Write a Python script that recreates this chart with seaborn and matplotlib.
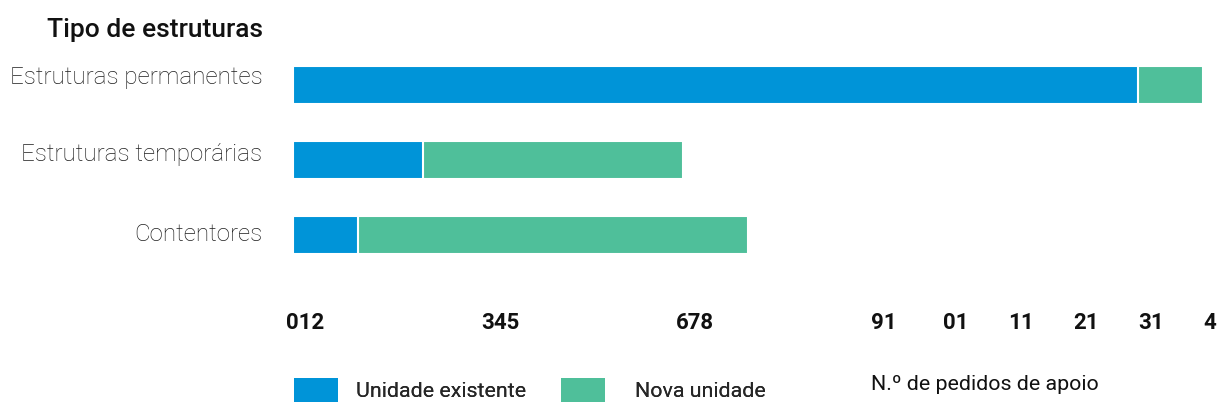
import matplotlib
matplotlib.use("Agg")
import matplotlib.pyplot as plt
from matplotlib.patches import Patch
from matplotlib.transforms import ScaledTranslation
import numpy as np
import pandas as pd
import seaborn as sns

# Support requests per structure type
categories = ["Estruturas permanentes", "Estruturas temporárias", "Contentores"]
existing_unit = [13, 2, 1]
new_unit = [1, 4, 6]

# Axis tick labels as they are printed along the value axis
tick_values = [0, 3, 6, 9, 10, 11, 12, 13, 14]
tick_labels = ["012", "345", "678", "91", "01", "11", "21", "31", "4"]

BLUE = "#0094d8"
GREEN = "#4fbf9a"

sns.set_theme(style="white")
plt.rcParams["font.family"] = ["Roboto", "DejaVu Sans"]

df = pd.DataFrame({
    "categoria": categories,
    "existente": existing_unit,
    "total": np.array(existing_unit) + np.array(new_unit),
})

fig = plt.figure(figsize=(12.2, 4.07), dpi=100)
ax = fig.add_axes([293 / 1220, 1 - 272.5 / 407, 910 / 1220, 225 / 407])

# stacked bars: full length in green, existing part in blue on top
sns.barplot(data=df, y="categoria", x="total", color=GREEN, orient="y",
            width=0.5, saturation=1, edgecolor="white", linewidth=1.5, ax=ax)
sns.barplot(data=df, y="categoria", x="existente", color=BLUE, orient="y",
            width=0.5, saturation=1, edgecolor="white", linewidth=1.5, ax=ax)

ax.set_xlim(0, 14)
ax.set_ylim(2.5, -0.5)
ax.set_xlabel("")
ax.set_ylabel("")
for s in ax.spines.values():
    s.set_visible(False)


def shift(artist, dx_px, dy_px):
    artist.set_transform(artist.get_transform()
                         + ScaledTranslation(dx_px / 100, dy_px / 100,
                                             fig.dpi_scale_trans))


ax.set_xticks(tick_values)
ax.set_xticklabels(tick_labels, fontsize=16, fontweight="bold", ha="left",
                   color="#111111")
ax.tick_params(axis="x", length=0, pad=28.5)
ax.tick_params(axis="y", length=0, pad=22)
# the first grouped labels sit slightly left of their tick
for lbl in ax.get_xticklabels()[:4]:
    shift(lbl, -7, 0)

# category labels, nudged up a little
for lbl, dy in zip(ax.get_yticklabels(), [10, 8, 3]):
    lbl.set_fontsize(17.4)
    lbl.set_fontweight("light")
    lbl.set_color("#1e1e1e")
    shift(lbl, 0, dy)

fig.text(263 / 1220, 1 - 30 / 407, "Tipo de estruturas", ha="right",
         va="center", fontsize=19, fontweight="medium", color="#111111")

legend_items = [
    (BLUE, "Unidade existente", 294, 0.85),
    (GREEN, "Nova unidade", 561, 1.4),
]
for color, label, x_px, textpad in legend_items:
    leg = fig.legend(handles=[Patch(facecolor=color, edgecolor="none", label=label)],
                     loc="upper left", bbox_to_anchor=(x_px / 1220, 1 - 378 / 407),
                     frameon=False, fontsize=15.4, handlelength=2.06,
                     handleheight=1.36, handletextpad=textpad, borderpad=0,
                     borderaxespad=0)
    fig.add_artist(leg)

fig.text(871 / 1220, 1 - 385 / 407, "N.º de pedidos de apoio", ha="left",
         va="center", fontsize=15.4, color="#111111")

fig.savefig("out.png", dpi=100)
